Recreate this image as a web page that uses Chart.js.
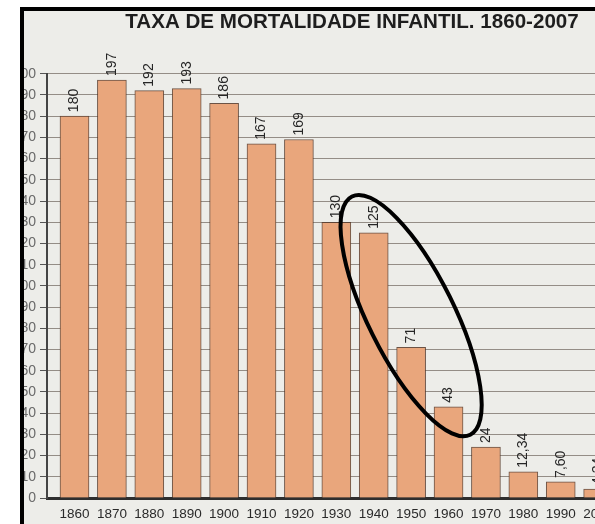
<!DOCTYPE html>
<html>
<head>
<meta charset="utf-8">
<script src="https://cdn.jsdelivr.net/npm/chart.js@4/dist/chart.umd.min.js"></script>
<style>
  html, body { margin: 0; padding: 0; background: #fff; overflow: hidden; }
  #wrap { position: relative; width: 595px; height: 524px; overflow: hidden; background: #fff; }
  #paper { position: absolute; left: 0; top: 0; width: 704px; height: 524px; background: #edede9; }
  canvas { position: absolute; left: 0; top: 0; }
  .mask { position: absolute; }
</style>
</head>
<body>
<div id="wrap">
  <div id="paper"></div>
  <canvas id="mortChart" width="704" height="524"></canvas>
  <!-- scan frame: white margin + thick black edge -->
  <div class="mask" style="left:0;top:0;width:20px;height:524px;background:#fff"></div>
  <div class="mask" style="left:0;top:0;width:595px;height:7px;background:#fff"></div>
  <div class="mask" style="left:20px;top:7px;width:575px;height:4px;background:#000"></div>
  <div class="mask" style="left:20px;top:7px;width:4px;height:517px;background:#000"></div>
</div>
<script>
// data
const years = ['1860', '1870', '1880', '1890', '1900', '1910', '1920', '1930',
               '1940', '1950', '1960', '1970', '1980', '1990', '2000'];
const rates = [180, 197, 192, 193, 186, 167, 169, 130, 125, 71, 43, 24, 12.34, 7.6, 4.24];
const yTicksMax = 200;
const yTickStep = 10;
// hand-drawn ring around 1940-1960, centred on the 1950 slot
const ringCenter = { x: 9, y: 86 };

const fmt = v => Number.isInteger(v) ? String(v) : v.toFixed(2).replace('.', ',');

const valueLabels = {
    id: 'valueLabels',
    afterDatasetsDraw(chart) {
        const ctx = chart.ctx;
        const meta = chart.getDatasetMeta(0);
        ctx.save();
        ctx.font = '14px "Liberation Sans", Arial, sans-serif';
        ctx.fillStyle = '#262626';
        ctx.textAlign = 'left';
        ctx.textBaseline = 'middle';
        meta.data.forEach((bar, i) => {
            ctx.save();
            ctx.translate(bar.x, bar.y - 4);
            ctx.rotate(-Math.PI / 2);
            ctx.fillText(fmt(rates[i]), 0, 0);
            ctx.restore();
        });
        ctx.restore();
    }
};

const ring = {
    id: 'ring',
    afterDraw(chart) {
        const ctx = chart.ctx;
        const cx = chart.scales.x.getPixelForValue(ringCenter.x);
        const cy = chart.scales.y.getPixelForValue(ringCenter.y);
        ctx.save();
        ctx.beginPath();
        ctx.ellipse(cx, cy, 133, 43, 63.6 * Math.PI / 180, 0, Math.PI * 2);
        ctx.lineWidth = 4;
        ctx.strokeStyle = '#000';
        ctx.stroke();
        ctx.restore();
    }
};

const ctx = document.getElementById('mortChart').getContext('2d');
new Chart(ctx, {
    type: 'bar',
    data: {
        datasets: [{
            data: rates.map((r, i) => ({ x: i, y: r })),
            backgroundColor: '#e9a67c',
            borderColor: 'rgba(85, 55, 40, 0.85)',
            borderWidth: 1,
            borderSkipped: 'start',
            barThickness: 29
        }]
    },
    options: {
        responsive: false,
        animation: false,
        layout: { padding: 0 },
        plugins: {
            legend: { display: false },
            tooltip: { enabled: false },
            title: {
                display: true,
                text: 'TAXA DE MORTALIDADE INFANTIL. 1860-2007',
                color: '#1e1e1e',
                font: { family: '"Liberation Sans", Arial, sans-serif', size: 20.6, weight: 'bold' },
                padding: { top: 10, bottom: 39 }
            }
        },
        scales: {
            x: {
                type: 'linear',
                min: -0.735,
                max: 16.83,
                offset: false,
                z: 1,
                grid: { display: false, offset: false, drawTicks: false },
                border: { display: true, color: '#2e2e2e', width: 3 },
                ticks: {
                    autoSkip: false,
                    maxRotation: 0,
                    padding: 8,
                    color: '#2a2a2a',
                    font: { family: '"Liberation Sans", Arial, sans-serif', size: 13.5 },
                    callback: v => years[v] || ''
                },
                afterBuildTicks: scale => { scale.ticks = years.map((y, i) => ({ value: i })); },
                afterFit: scale => { scale.height = 26; }
            },
            y: {
                min: 0,
                max: yTicksMax,
                z: 1,
                grid: {
                    color: 'rgba(60, 45, 35, 0.5)',
                    lineWidth: 1,
                    tickColor: '#555',
                    tickLength: 7
                },
                border: { display: true, color: '#444', width: 2 },
                ticks: {
                    stepSize: yTickStep,
                    padding: 4,
                    color: '#6a6a6a',
                    font: { family: '"Liberation Sans", Arial, sans-serif', size: 14 }
                },
                afterFit: scale => { scale.width = 47; }
            }
        }
    },
    plugins: [valueLabels, ring]
});
</script>
</body>
</html>
